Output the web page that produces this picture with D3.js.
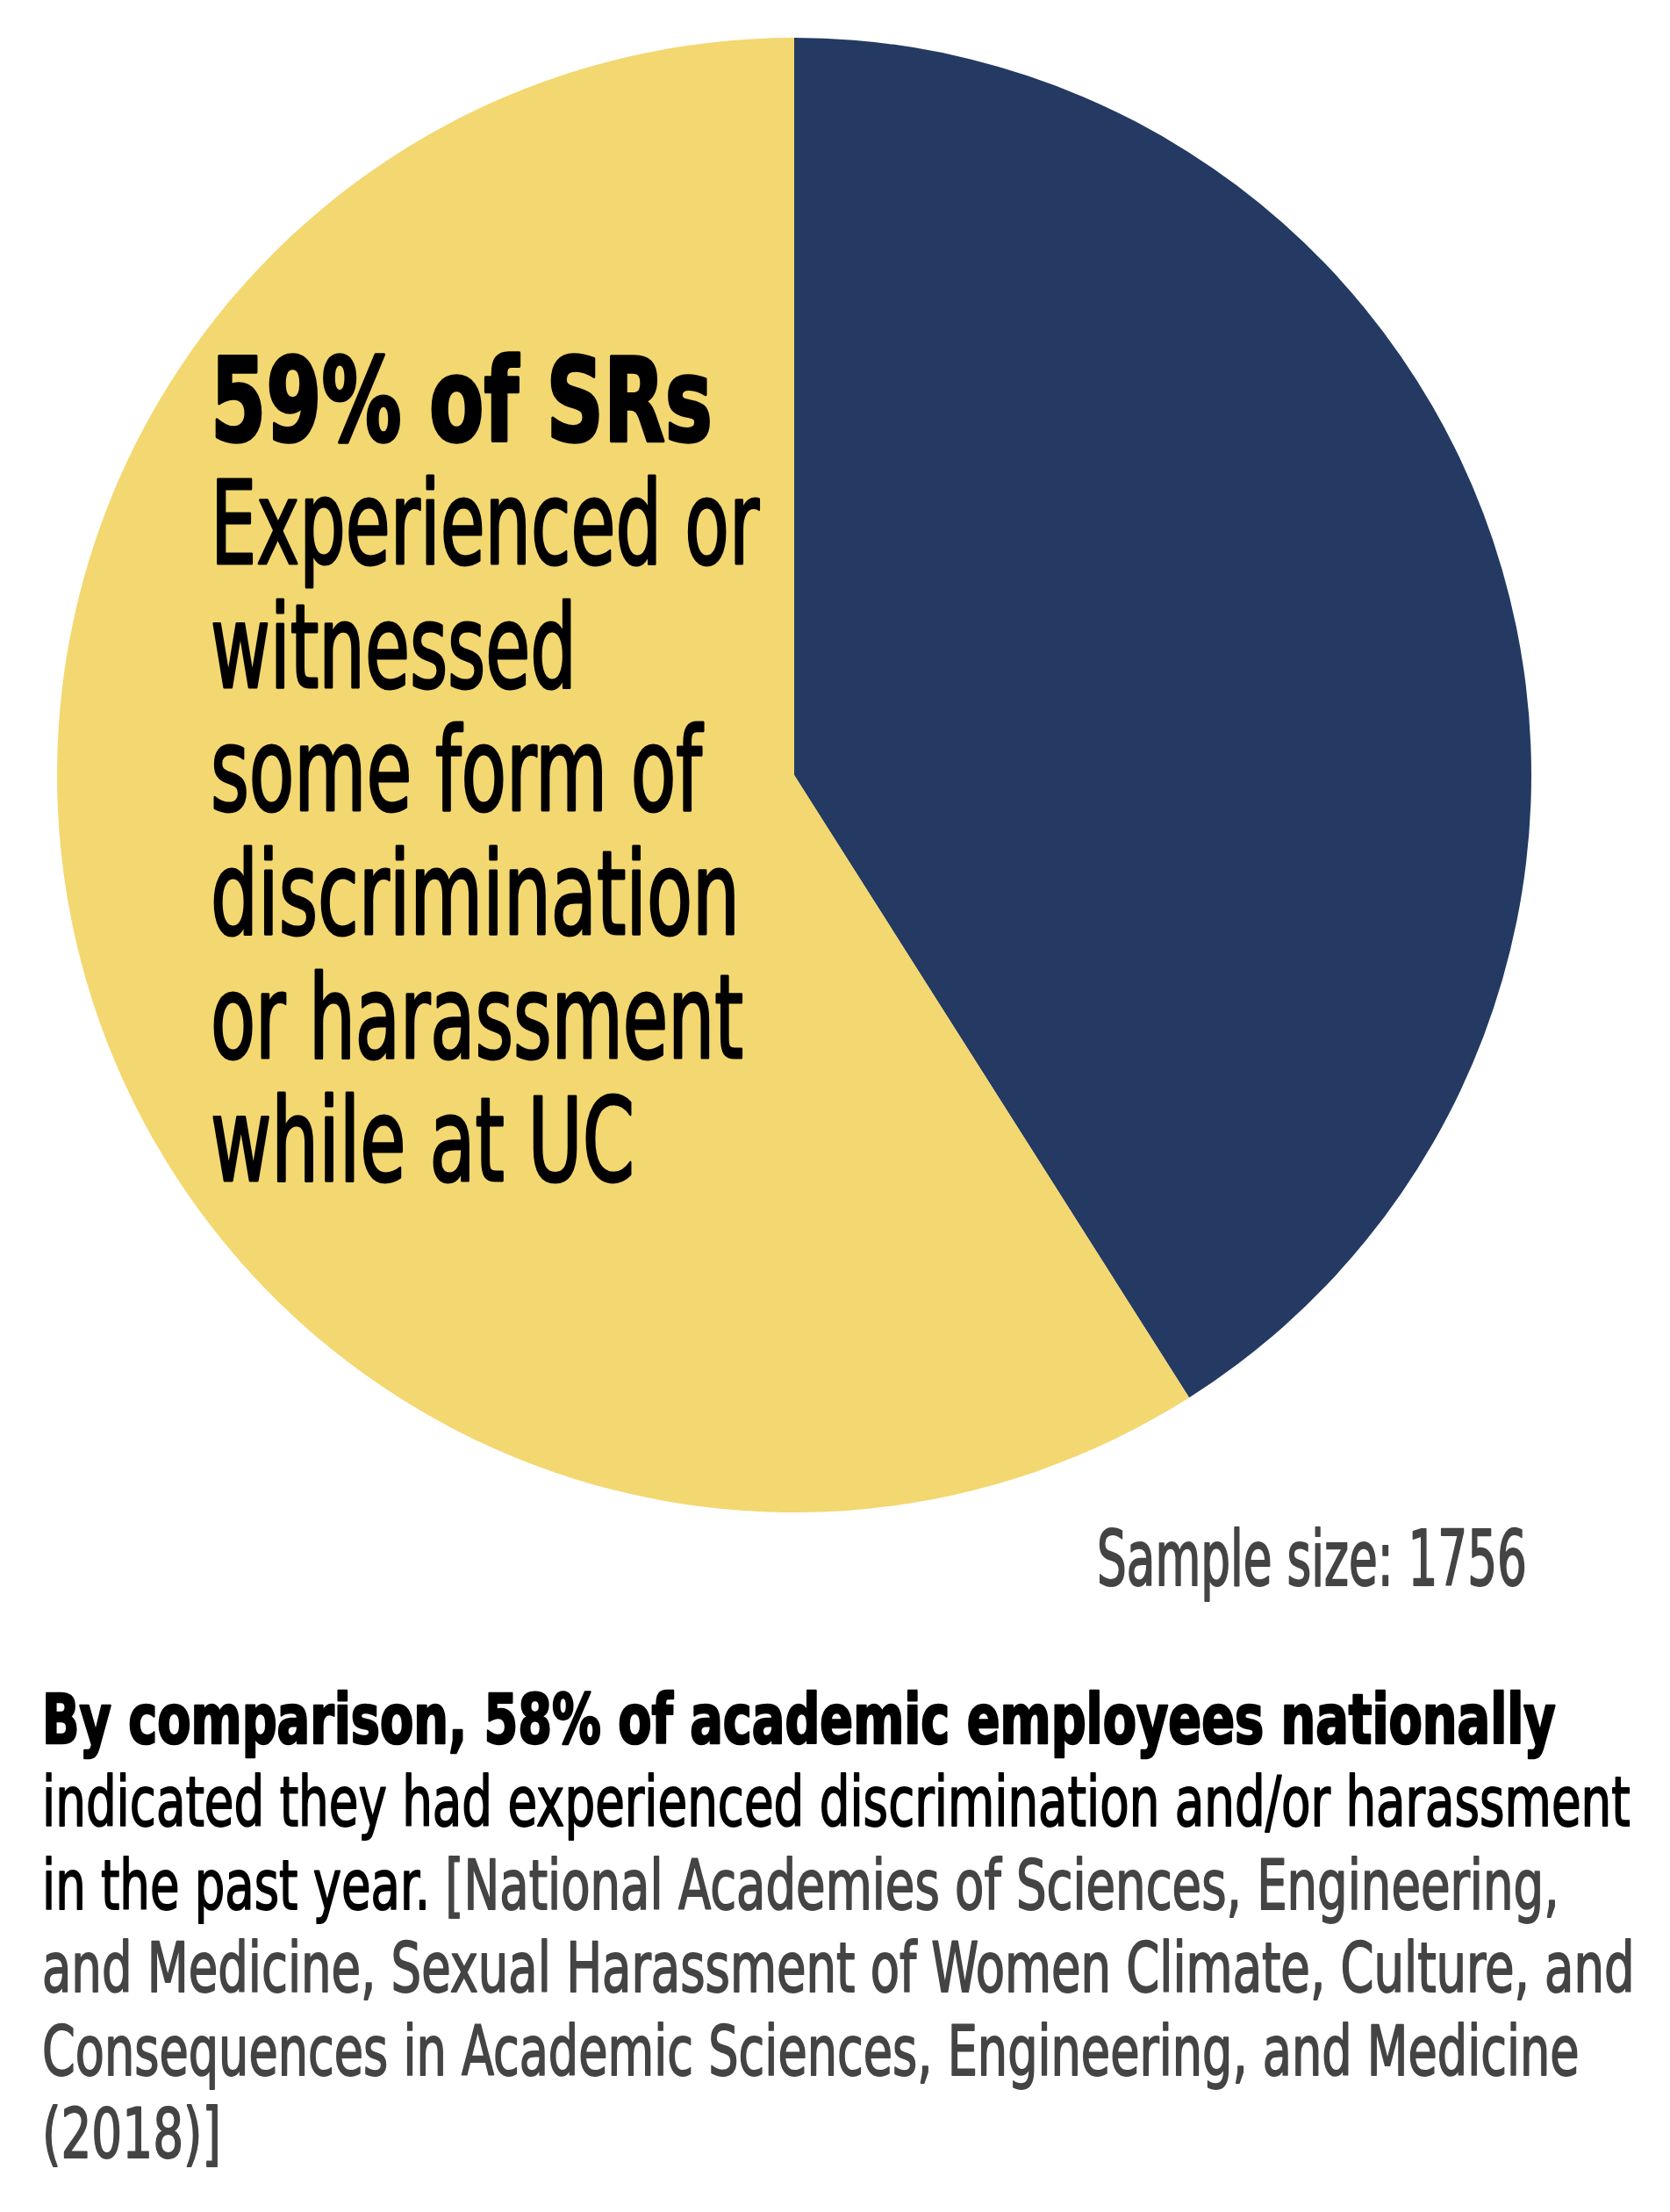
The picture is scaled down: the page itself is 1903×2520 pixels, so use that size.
<!DOCTYPE html>
<html>
<head>
<meta charset="utf-8">
<script src="https://cdn.jsdelivr.net/npm/d3@7"></script>
<style>
  html, body { margin: 0; padding: 0; background: #ffffff; }
  svg { display: block; }
</style>
</head>
<body>
<script>
// ---- data ----
const categories = ["Did not experience or witness", "Experienced or witnessed"];
const values = [41, 59];
const sliceColors = ["#243a63", "#f3d770"];
const pieLabelLines = [
  { text: "59% of SRs", bold: true },
  { text: "Experienced or", bold: false },
  { text: "witnessed", bold: false },
  { text: "some form of", bold: false },
  { text: "discrimination", bold: false },
  { text: "or harassment", bold: false },
  { text: "while at UC", bold: false }
];
const sampleNote = "Sample size: 1756";
const footnoteLines = [
  [{ t: "By comparison, 58% of academic employees nationally", c: "main", b: true }],
  [{ t: "indicated they had experienced discrimination and/or harassment", c: "main", b: false }],
  [{ t: "in the past year. ", c: "main", b: false }, { t: "[National Academies of Sciences, Engineering,", c: "src", b: false }],
  [{ t: "and Medicine, Sexual Harassment of Women Climate, Culture, and", c: "src", b: false }],
  [{ t: "Consequences in Academic Sciences, Engineering, and Medicine", c: "src", b: false }],
  [{ t: "(2018)]", c: "src", b: false }]
];

// ---- layout ----
const W = 1903, H = 2520;
const FONT = "'Liberation Sans Narrow','DejaVu Sans Condensed','Roboto Condensed','Liberation Sans',sans-serif";
const svg = d3.select("body").append("svg").attr("width", W).attr("height", H);

const cx = 905, cy = 883, R = 840;
const color = d3.scaleOrdinal().domain(categories).range(sliceColors);
const pie = d3.pie().sort(null).value(d => d.v);
const arc = d3.arc().innerRadius(0).outerRadius(R);
const pieData = pie(categories.map((c, i) => ({ c, v: values[i] })));

svg.append("g").attr("transform", `translate(${cx},${cy})`)
  .selectAll("path").data(pieData).join("path")
  .attr("d", arc)
  .attr("fill", d => color(d.data.c));

function fit(sel, x, y, targetW) {
  const w = sel.node().getComputedTextLength();
  sel.attr("transform", `translate(${x},${y}) scale(${targetW / w},1)`);
}

// pie label
const labelX = 240;
const labelBase = [502, 642, 783, 923, 1064, 1205, 1345];
const labelWidths = [572, 625, 417, 560, 603, 607, 483];
pieLabelLines.forEach((l, i) => {
  const t = svg.append("text")
    .attr("x", 0).attr("y", 0)
    .attr("font-family", FONT)
    .attr("font-size", 132)
    .attr("font-weight", l.bold ? "bold" : "normal")
    .attr("fill", "#000")
    .attr("stroke", "#000")
    .attr("stroke-width", l.bold ? 3.5 : 3)
    .attr("stroke-linejoin", "round")
    .text(l.text);
  fit(t, labelX, labelBase[i], labelWidths[i]);
});

// sample size
const s = svg.append("text")
  .attr("font-family", FONT).attr("font-size", 87)
  .attr("fill", "#444444")
  .attr("stroke", "#444444").attr("stroke-width", 2).attr("stroke-linejoin", "round")
  .text(sampleNote);
fit(s, 1250, 1806, 490);

// footnote
const footBase = [1986, 2080, 2175, 2269, 2364, 2458];
const footWidths = [1725, 1810, 1729, 1815, 1752, 204];
footnoteLines.forEach((line, i) => {
  const t = svg.append("text")
    .attr("font-family", FONT).attr("font-size", 79)
    .attr("stroke-linejoin", "round");
  line.forEach(seg => {
    const col = seg.c === "main" ? "#000" : "#444444";
    t.append("tspan")
      .attr("fill", col)
      .attr("stroke", col)
      .attr("stroke-width", seg.b ? 2.5 : 1.8)
      .attr("font-weight", seg.b ? "bold" : "normal")
      .text(seg.t);
  });
  fit(t, 48, footBase[i], footWidths[i]);
});
</script>
</body>
</html>
